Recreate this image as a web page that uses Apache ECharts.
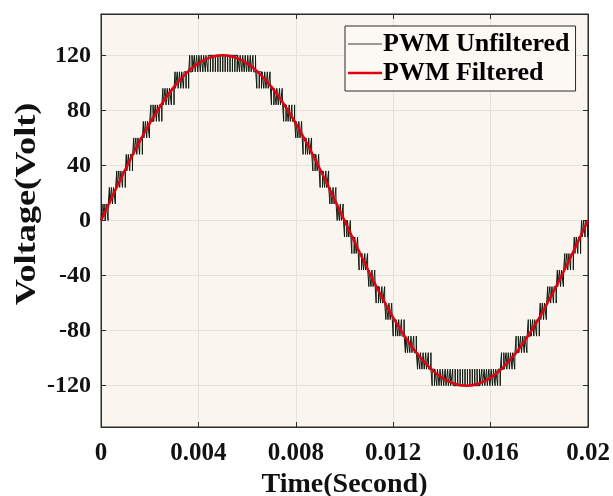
<!DOCTYPE html>
<html>
<head>
<meta charset="utf-8">
<script src="https://cdn.jsdelivr.net/npm/echarts@6/dist/echarts.min.js"></script>
<style>
  html, body { margin: 0; padding: 0; background: #ffffff; }
  #chart { width: 613px; height: 496px; }
</style>
</head>
<body>
<div id="chart"></div>
<script>
// Filtered output voltage, sampled every 0.5 ms over one 50 Hz cycle
const filteredTime = [
  0, 0.0005, 0.001, 0.0015, 0.002, 0.0025, 0.003, 0.0035, 0.004, 0.0045,
  0.005, 0.0055, 0.006, 0.0065, 0.007, 0.0075, 0.008, 0.0085, 0.009, 0.0095,
  0.01, 0.0105, 0.011, 0.0115, 0.012, 0.0125, 0.013, 0.0135, 0.014, 0.0145,
  0.015, 0.0155, 0.016, 0.0165, 0.017, 0.0175, 0.018, 0.0185, 0.019, 0.0195, 0.02
];
const filteredVolt = [
  0, 18.77, 37.08, 54.48, 70.53, 84.85, 97.08, 106.92, 114.13, 118.52,
  120, 118.52, 114.13, 106.92, 97.08, 84.85, 70.53, 54.48, 37.08, 18.77,
  0, -18.77, -37.08, -54.48, -70.53, -84.85, -97.08, -106.92, -114.13, -118.52,
  -120, -118.52, -114.13, -106.92, -97.08, -84.85, -70.53, -54.48, -37.08, -18.77, 0
];

// Multilevel PWM, one pulse per 0.1 ms switching period (200 periods per cycle).
// carrierLow = lower level of the active 12 V band, pulseDuty = on-fraction of the period.
const switchPeriod = 0.0001;
const levelStep = 12;
const carrierLow = [
  // 0 - 5 ms
  0, 0, 0, 12, 12, 12, 24, 24, 24, 24, 36, 36, 36, 48, 48, 48, 48, 60, 60, 60,
  72, 72, 72, 72, 72, 84, 84, 84, 84, 84, 96, 96, 96, 96, 96, 96,
  108, 108, 108, 108, 108, 108, 108, 108, 108, 108, 108, 108, 108, 108,
  // 5 - 10 ms
  108, 108, 108, 108, 108, 108, 108, 108, 108, 108, 108, 108, 108, 108,
  96, 96, 96, 96, 96, 96, 84, 84, 84, 84, 84, 72, 72, 72, 72, 72,
  60, 60, 60, 48, 48, 48, 48, 36, 36, 36, 24, 24, 24, 24, 12, 12, 12, 0, 0, 0,
  // 10 - 15 ms
  -12, -12, -12, -24, -24, -24, -36, -36, -36, -36, -48, -48, -48, -60, -60, -60, -60, -72, -72, -72,
  -84, -84, -84, -84, -84, -96, -96, -96, -96, -96, -108, -108, -108, -108, -108, -108,
  -120, -120, -120, -120, -120, -120, -120, -120, -120, -120, -120, -120, -120, -120,
  // 15 - 20 ms
  -120, -120, -120, -120, -120, -120, -120, -120, -120, -120, -120, -120, -120, -120,
  -108, -108, -108, -108, -108, -108, -96, -96, -96, -96, -96, -84, -84, -84, -84, -84,
  -72, -72, -72, -60, -60, -60, -60, -48, -48, -48, -36, -36, -36, -36, -24, -24, -24, -12, -12, -12
];
const pulseDuty = [
  // 0 - 5 ms
  0.16, 0.47, 0.79, 0.10, 0.41, 0.72, 0.03, 0.33, 0.64, 0.94, 0.24, 0.54, 0.83, 0.12, 0.40, 0.68, 0.96, 0.23, 0.49, 0.75,
  0.01, 0.25, 0.49, 0.73, 0.96, 0.18, 0.40, 0.60, 0.80, 0.99, 0.18, 0.36, 0.53, 0.69, 0.84, 0.98,
  0.11, 0.24, 0.35, 0.46, 0.56, 0.65, 0.72, 0.79, 0.85, 0.90, 0.94, 0.97, 0.99, 0.99,
  // 5 - 10 ms
  0.99, 0.99, 0.97, 0.94, 0.90, 0.85, 0.79, 0.72, 0.65, 0.56, 0.46, 0.35, 0.24, 0.11,
  0.98, 0.84, 0.69, 0.53, 0.36, 0.18, 0.99, 0.80, 0.60, 0.40, 0.18, 0.96, 0.73, 0.49, 0.25, 0.01,
  0.75, 0.49, 0.23, 0.96, 0.68, 0.40, 0.12, 0.83, 0.54, 0.24, 0.94, 0.64, 0.33, 0.03, 0.72, 0.41, 0.10, 0.79, 0.47, 0.16,
  // 10 - 15 ms
  0.84, 0.53, 0.21, 0.90, 0.59, 0.28, 0.97, 0.67, 0.36, 0.06, 0.76, 0.46, 0.17, 0.88, 0.60, 0.32, 0.04, 0.77, 0.51, 0.25,
  0.99, 0.75, 0.51, 0.27, 0.04, 0.82, 0.60, 0.40, 0.20, 0.01, 0.82, 0.64, 0.47, 0.31, 0.16, 0.02,
  0.89, 0.76, 0.65, 0.54, 0.44, 0.35, 0.28, 0.21, 0.15, 0.10, 0.06, 0.03, 0.01, 0.01,
  // 15 - 20 ms
  0.01, 0.01, 0.03, 0.06, 0.10, 0.15, 0.21, 0.28, 0.35, 0.44, 0.54, 0.65, 0.76, 0.89,
  0.02, 0.16, 0.31, 0.47, 0.64, 0.82, 0.01, 0.20, 0.40, 0.60, 0.82, 0.04, 0.27, 0.51, 0.75, 0.99,
  0.25, 0.51, 0.77, 0.04, 0.32, 0.60, 0.88, 0.17, 0.46, 0.76, 0.06, 0.36, 0.67, 0.97, 0.28, 0.59, 0.90, 0.21, 0.53, 0.84
];

// Axis ticks
const xTicks = [0, 0.004, 0.008, 0.012, 0.016, 0.02];
const yTicks = [-120, -80, -40, 0, 40, 80, 120];

// Pulse train as a polyline with vertical edges
const pwmPoints = [];
for (let k = 0; k < carrierLow.length; k++) {
  const t0 = k * switchPeriod;
  const lo = carrierLow[k];
  const hi = lo + levelStep;
  const d = pulseDuty[k];
  const tOn = t0 + (1 - d) * switchPeriod / 2;
  const tOff = t0 + (1 + d) * switchPeriod / 2;
  pwmPoints.push([t0, lo], [tOn, lo], [tOn, hi], [tOff, hi], [tOff, lo]);
}
pwmPoints.push([carrierLow.length * switchPeriod, 0]);

const filteredPoints = filteredTime.map((t, i) => [t, filteredVolt[i]]);

const FONT = "'Liberation Serif', 'Times New Roman', serif";
const tickFmt = v => String(parseFloat(v.toFixed(3)));
const AXIS_COLOR = '#2b2b2b';

const chart = echarts.init(document.getElementById('chart'), null, { renderer: 'canvas' });
chart.setOption({
  animation: false,
  backgroundColor: '#ffffff',
  grid: {
    left: 101, right: 25, top: 14, bottom: 69,
    outerBoundsMode: 'none',
    containLabel: false,
    show: true, backgroundColor: '#faf5ef', borderColor: AXIS_COLOR, borderWidth: 1
  },
  legend: {
    orient: 'vertical',
    left: 345, top: 26,
    padding: [5, 6, 5, 3],
    itemGap: 3,
    itemWidth: 34,
    itemHeight: 3,
    backgroundColor: '#fcf9f4',
    borderColor: AXIS_COLOR,
    borderWidth: 1,
    textStyle: { fontFamily: FONT, fontWeight: 'bold', fontSize: 26, color: '#000', padding: [0, 0, 0, -4] },
    data: [
      { name: 'PWM Unfiltered', icon: 'path://M0,0H34V1H0Z', itemStyle: { color: '#3a3a3a' } },
      { name: 'PWM Filtered', icon: 'path://M0,0H34V2.5H0Z', itemStyle: { color: '#e3000f' } }
    ]
  },
  xAxis: [{
    type: 'value', min: 0, max: 0.02, interval: 0.004,
    name: 'Time(Second)', nameLocation: 'middle', nameGap: 41,
    nameTextStyle: { fontFamily: FONT, fontWeight: 'bold', fontSize: 28, color: '#111' },
    axisLine: { show: true, onZero: false, lineStyle: { color: AXIS_COLOR, width: 1 } },
    axisTick: { show: true, inside: true, length: 5, lineStyle: { color: AXIS_COLOR } },
    axisLabel: { fontFamily: FONT, fontWeight: 'bold', fontSize: 25, color: '#111', margin: 14, formatter: tickFmt,
                 customValues: xTicks },
    splitLine: { show: true, lineStyle: { color: '#e6e1da', width: 1 } }
  }, {
    type: 'value', position: 'top', min: 0, max: 0.02, interval: 0.004,
    axisLine: { show: true, onZero: false, lineStyle: { color: AXIS_COLOR, width: 1 } },
    axisTick: { show: true, inside: true, length: 5, lineStyle: { color: AXIS_COLOR } },
    axisLabel: { show: false },
    splitLine: { show: false }
  }],
  yAxis: [{
    type: 'value', min: -150, max: 150,
    axisLine: { show: true, onZero: false, lineStyle: { color: AXIS_COLOR, width: 1 } },
    axisTick: { show: true, inside: true, length: 5, lineStyle: { color: AXIS_COLOR }, customValues: yTicks },
    axisLabel: { fontFamily: FONT, fontWeight: 'bold', fontSize: 24, color: '#111', margin: 10, customValues: yTicks },
    splitLine: { show: true, lineStyle: { color: '#e6e1da', width: 1 } }
  }, {
    type: 'value', position: 'right', min: -150, max: 150,
    axisLine: { show: true, onZero: false, lineStyle: { color: AXIS_COLOR, width: 1 } },
    axisTick: { show: true, inside: true, length: 5, lineStyle: { color: AXIS_COLOR }, customValues: yTicks },
    axisLabel: { show: false },
    splitLine: { show: false }
  }],
  graphic: [{
    type: 'text',
    x: 28, y: 204,
    rotation: Math.PI / 2,
    scaleX: 1.25,
    style: {
      text: 'Voltage(Volt)',
      font: "bold 29px 'Liberation Serif', 'Times New Roman', serif",
      fill: '#111',
      textAlign: 'center',
      textVerticalAlign: 'middle'
    }
  }],
  series: [{
    name: 'PWM Unfiltered',
    type: 'line',
    data: pwmPoints,
    showSymbol: false,
    symbol: 'none',
    lineStyle: { color: '#0f1a0f', width: 1 },
    itemStyle: { color: '#3a3a3a' },
    z: 2
  }, {
    name: 'PWM Filtered',
    type: 'line',
    data: filteredPoints,
    smooth: 0.5,
    showSymbol: false,
    symbol: 'none',
    lineStyle: { color: '#e3000f', width: 2.5 },
    itemStyle: { color: '#e3000f' },
    z: 3
  }]
});
</script>
</body>
</html>
